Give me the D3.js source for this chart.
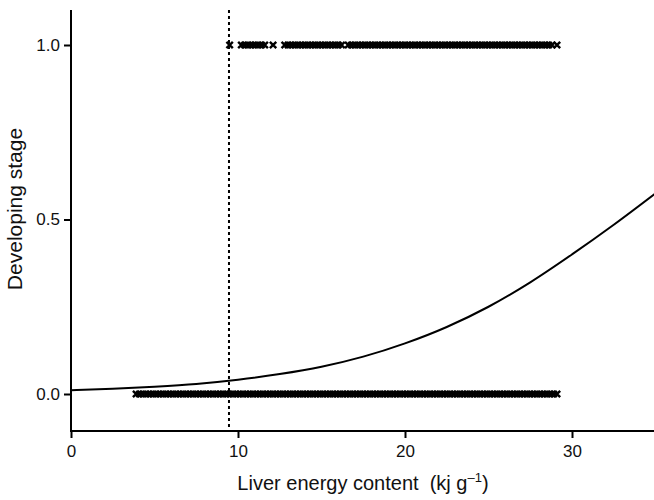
<!DOCTYPE html>
<html>
<head>
<meta charset="utf-8">
<script src="https://cdn.jsdelivr.net/npm/d3@7"></script>
<style>
  body { margin: 0; background: #fff; }
  svg text { font-family: "Liberation Sans Narrow", "Arial Narrow", "Liberation Sans", sans-serif; fill: #111; }
</style>
</head>
<body>
<div id="chart"></div>
<script>
// observations that reached the developing stage (y = 1)
const stage1 = [9.5,
  10.2, 10.4, 10.6, 10.8, 11.0, 11.2, 11.4, 11.6,
  12.1,
  12.8, 13.0, 13.2, 13.4, 13.6, 13.8, 14.0, 14.2, 14.4, 14.6, 14.8, 15.0, 15.2, 15.4, 15.6, 15.8, 16.0, 16.2,
  16.6, 16.8, 17.0, 17.2, 17.4, 17.6, 17.8, 18.0, 18.2, 18.4, 18.6, 18.8, 19.0, 19.2, 19.4, 19.6, 19.8,
  20.0, 20.2, 20.4, 20.6, 20.8, 21.0, 21.2, 21.4, 21.6, 21.8, 22.0, 22.2, 22.4, 22.6, 22.8,
  23.0, 23.2, 23.4, 23.6, 23.8, 24.0, 24.2, 24.4, 24.6, 24.8, 25.0, 25.2, 25.4, 25.6, 25.8,
  26.0, 26.2, 26.4, 26.6, 26.8, 27.0, 27.2, 27.4, 27.6, 27.8, 28.0, 28.2, 28.4, 28.6, 28.8, 29.1];

// observations not developing (y = 0)
const stage0 = [3.9, 4.1, 4.3, 4.5, 4.7, 4.9, 5.1, 5.3, 5.5, 5.7, 5.9,
  6.1, 6.3, 6.5, 6.7, 6.9, 7.1, 7.3, 7.5, 7.7, 7.9, 8.1, 8.3, 8.5, 8.7, 8.9,
  9.1, 9.3, 9.5, 9.7, 9.9, 10.1, 10.3, 10.5, 10.7, 10.9, 11.1, 11.3, 11.5, 11.7, 11.9,
  12.1, 12.3, 12.5, 12.7, 12.9, 13.1, 13.3, 13.5, 13.7, 13.9, 14.1, 14.3, 14.5, 14.7, 14.9,
  15.1, 15.3, 15.5, 15.7, 15.9, 16.1, 16.3, 16.5, 16.7, 16.9, 17.1, 17.3, 17.5, 17.7, 17.9,
  18.1, 18.3, 18.5, 18.7, 18.9, 19.1, 19.3, 19.5, 19.7, 19.9, 20.1, 20.3, 20.5, 20.7, 20.9,
  21.1, 21.3, 21.5, 21.7, 21.9, 22.1, 22.3, 22.5, 22.7, 22.9, 23.1, 23.3, 23.5, 23.7, 23.9,
  24.1, 24.3, 24.5, 24.7, 24.9, 25.1, 25.3, 25.5, 25.7, 25.9, 26.1, 26.3, 26.5, 26.7, 26.9,
  27.1, 27.3, 27.5, 27.7, 27.9, 28.1, 28.3, 28.5, 28.7, 28.9, 29.1];

// fitted probability curve
const curveX = [0, 2.5, 5, 7.5, 10, 12.5, 15, 17.5, 20, 22.5, 25, 27.5, 30, 32.5, 35];
const curveY = [0.011, 0.015, 0.021, 0.029, 0.041, 0.057, 0.078, 0.107, 0.145, 0.192, 0.25, 0.32, 0.40, 0.485, 0.575];

const thresholdX = 9.46;

const xTicks = [0, 10, 20, 30];
const yTicks = [0, 0.5, 1.0];

const width = 654, height = 500;
const x = d3.scaleLinear().domain([0, 35]).range([71, 655.5]);
const y = d3.scaleLinear().domain([0, 1]).range([394, 45]);
const axisY = 431, axisTop = 10;

const svg = d3.select("#chart").append("svg")
  .attr("width", width)
  .attr("height", height);

// threshold line
svg.append("line")
  .attr("x1", x(thresholdX)).attr("x2", x(thresholdX))
  .attr("y1", axisTop).attr("y2", axisY)
  .style("stroke", "#000")
  .style("stroke-width", 2)
  .style("stroke-dasharray", "3,3");

// curve
const line = d3.line()
  .x(d => x(d[0]))
  .y(d => y(d[1]))
  .curve(d3.curveMonotoneX);

svg.append("path")
  .datum(curveX.map((v, i) => [v, curveY[i]]))
  .attr("d", line)
  .style("fill", "none")
  .style("stroke", "#000")
  .style("stroke-width", 2);

// cross markers
const r = 3.2;
function cross(d) {
  const cx = x(d[0]), cy = y(d[1]);
  return "M" + (cx - r) + "," + (cy - r) + "L" + (cx + r) + "," + (cy + r) +
         "M" + (cx - r) + "," + (cy + r) + "L" + (cx + r) + "," + (cy - r);
}
const points = stage0.map(v => [v, 0]).concat(stage1.map(v => [v, 1]));
svg.append("g").selectAll("path")
  .data(points)
  .enter().append("path")
  .attr("d", cross)
  .style("stroke", "#000")
  .style("stroke-width", 2.4)
  .style("fill", "none");

// axes
const xAxis = svg.append("g")
  .attr("transform", "translate(0," + axisY + ")")
  .call(d3.axisBottom(x).tickValues(xTicks).tickSize(7).tickSizeOuter(0).tickFormat(d3.format("d")));
xAxis.select(".domain").attr("d", "M" + x(0) + ",0H" + width);

const yAxis = svg.append("g")
  .attr("transform", "translate(" + x(0) + ",0)")
  .call(d3.axisLeft(y).tickValues(yTicks).tickSize(7).tickSizeOuter(0).tickFormat(d3.format(".1f")));
yAxis.select(".domain").attr("d", "M0," + axisTop + "V" + (axisY + 1));

svg.selectAll(".domain").style("stroke", "#000").style("stroke-width", 2);
svg.selectAll(".tick line").style("stroke", "#000").style("stroke-width", 2);
svg.selectAll(".tick text").style("font-size", "17px").style("fill", "#111");
xAxis.selectAll(".tick text").attr("dy", "0.95em");
yAxis.selectAll(".tick text").attr("dx", "-1px");

// labels
const xl = svg.append("text")
  .attr("x", 363).attr("y", 490)
  .attr("text-anchor", "middle")
  .style("font-size", "20px");
xl.append("tspan").text("Liver energy content\u00a0\u00a0(kj g");
xl.append("tspan").attr("dy", -8).style("font-size", "13px").text("\u20131");
xl.append("tspan").attr("dy", 8).text(")");

svg.append("text")
  .attr("transform", "translate(22,209) rotate(-90)")
  .attr("text-anchor", "middle")
  .style("font-size", "21px")
  .text("Developing stage");
</script>
</body>
</html>
